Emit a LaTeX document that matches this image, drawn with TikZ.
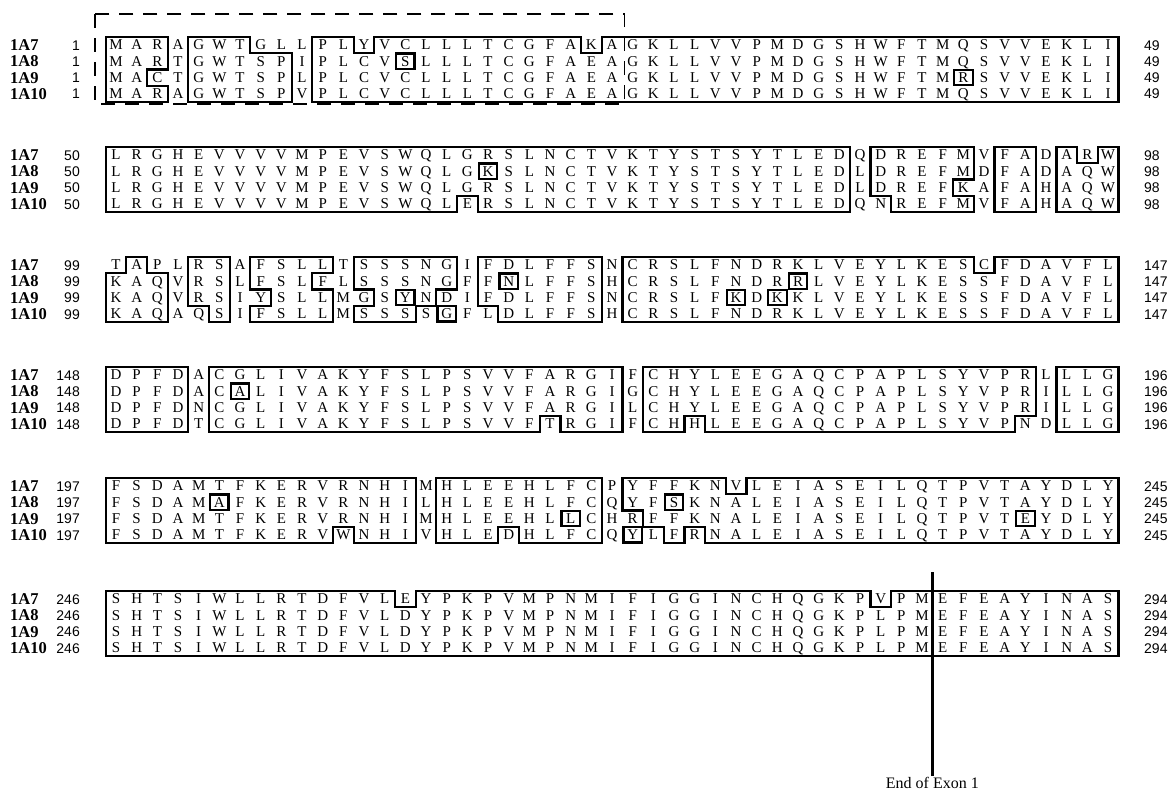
\documentclass[tikz,border=0pt]{standalone}
\usepackage{fontspec}
\setmainfont{Liberation Serif}
\newfontfamily\numfont{Liberation Sans}
\tikzset{
 res/.style={font=\fontsize{15bp}{17bp}\selectfont, inner sep=0pt, anchor=base, yshift=-4.95bp},
 lab/.style={font=\fontsize{16.5bp}{19bp}\selectfont\bfseries, inner sep=0pt, anchor=base west},
 stnum/.style={font=\numfont\fontsize{14bp}{16bp}\selectfont, inner sep=0pt, anchor=base east},
 ennum/.style={font=\numfont\fontsize{14bp}{16bp}\selectfont, inner sep=0pt, anchor=base west},
 bx/.style={line width=2.3bp, line join=miter},
 dashbox/.style={line width=1.8bp, dash pattern=on 14bp off 10bp},
 exonlab/.style={font=\fontsize{16bp}{18bp}\selectfont, inner sep=1bp, anchor=north},
}
\newcommand{\seqrow}[3]{\foreach \ch [count=\cc] in {#3}{\node[res] (s#1-#2-\cc) at (\cc,#2) {\ch};}}
\newcommand{\smbx}[2]{\draw[bx] (#1-0.45,#2-0.47) rectangle (#1+0.45,#2+0.47);}
\begin{document}
\begin{tikzpicture}[x=1bp,y=-1bp]
\useasboundingbox (0,0) rectangle (1176,800);

% labels and numbers
\foreach \b/\yy/\st/\en in {1/45/1/49,2/155/50/98,3/265/99/147,4/375/148/196,5/486/197/245,6/599/246/294}{
  \foreach \lab [count=\r] in {1A7,1A8,1A9,1A10}{
    \node[lab] (lab\b-\r) at (10,{\yy+16.3*(\r-1)+5.5}) {\lab};
    \node[stnum] (st\b-\r) at (80,{\yy+16.3*(\r-1)+5.1}) {\st};
    \node[ennum] (en\b-\r) at (1144,{\yy+16.3*(\r-1)+5.1}) {\en};
  }
}

% ---------------- Block 1 ----------------
\begin{scope}[shift={(95.333,28.7)}, x=20.667bp, y=-16.3bp]
\seqrow{1}{1}{M,A,R,A,G,W,T,G,L,L,P,L,Y,V,C,L,L,L,T,C,G,F,A,K,A,G,K,L,L,V,V,P,M,D,G,S,H,W,F,T,M,Q,S,V,V,E,K,L,I}
\seqrow{1}{2}{M,A,R,T,G,W,T,S,P,I,P,L,C,V,S,L,L,L,T,C,G,F,A,E,A,G,K,L,L,V,V,P,M,D,G,S,H,W,F,T,M,Q,S,V,V,E,K,L,I}
\seqrow{1}{3}{M,A,C,T,G,W,T,S,P,L,P,L,C,V,C,L,L,L,T,C,G,F,A,E,A,G,K,L,L,V,V,P,M,D,G,S,H,W,F,T,M,R,S,V,V,E,K,L,I}
\seqrow{1}{4}{M,A,R,A,G,W,T,S,P,V,P,L,C,V,C,L,L,L,T,C,G,F,A,E,A,G,K,L,L,V,V,P,M,D,G,S,H,W,F,T,M,Q,S,V,V,E,K,L,I}
\draw[bx] (0.5,0.5) -- (3.5,0.5) -- (3.5,2.5) -- (2.5,2.5) -- (2.5,3.5) -- (3.5,3.5) -- (3.5,4.5) -- (0.5,4.5) -- cycle;
\draw[bx] (4.5,0.5) -- (7.5,0.5) -- (7.5,1.5) -- (9.5,1.5) -- (9.5,4.5) -- (4.5,4.5) -- cycle;
\draw[bx] (10.5,0.5) -- (12.5,0.5) -- (12.5,1.5) -- (13.5,1.5) -- (13.5,0.5) -- (23.5,0.5) -- (23.5,1.5) -- (24.5,1.5) -- (24.5,0.5) -- (49.5,0.5) -- (49.5,4.5) -- (10.5,4.5) -- cycle;
\smbx{15}{2}
\smbx{42}{3}
\draw[dashbox] (0,-0.9) rectangle (25.6,4.62);
\end{scope}

% ---------------- Block 2 ----------------
\begin{scope}[shift={(95.333,138.7)}, x=20.667bp, y=-16.3bp]
\seqrow{2}{1}{L,R,G,H,E,V,V,V,V,M,P,E,V,S,W,Q,L,G,R,S,L,N,C,T,V,K,T,Y,S,T,S,Y,T,L,E,D,Q,D,R,E,F,M,V,F,A,D,A,R,W}
\seqrow{2}{2}{L,R,G,H,E,V,V,V,V,M,P,E,V,S,W,Q,L,G,K,S,L,N,C,T,V,K,T,Y,S,T,S,Y,T,L,E,D,L,D,R,E,F,M,D,F,A,D,A,Q,W}
\seqrow{2}{3}{L,R,G,H,E,V,V,V,V,M,P,E,V,S,W,Q,L,G,R,S,L,N,C,T,V,K,T,Y,S,T,S,Y,T,L,E,D,L,D,R,E,F,K,A,F,A,H,A,Q,W}
\seqrow{2}{4}{L,R,G,H,E,V,V,V,V,M,P,E,V,S,W,Q,L,E,R,S,L,N,C,T,V,K,T,Y,S,T,S,Y,T,L,E,D,Q,N,R,E,F,M,V,F,A,H,A,Q,W}
\draw[bx] (0.5,0.5) -- (36.5,0.5) -- (36.5,4.5) -- (18.5,4.5) -- (18.5,3.5) -- (17.5,3.5) -- (17.5,4.5) -- (0.5,4.5) -- cycle;
\smbx{19}{2}
\draw[bx] (37.5,0.5) -- (42.5,0.5) -- (42.5,2.5) -- (41.5,2.5) -- (41.5,3.5) -- (42.5,3.5) -- (42.5,4.5) -- (38.5,4.5) -- (38.5,3.5) -- (37.5,3.5) -- cycle;
\draw[bx] (43.5,0.5) rectangle (45.5,4.5);
\draw[bx] (46.5,0.5) -- (47.5,0.5) -- (47.5,1.5) -- (48.5,1.5) -- (48.5,0.5) -- (49.5,0.5) -- (49.5,4.5) -- (46.5,4.5) -- cycle;
\end{scope}

% ---------------- Block 3 ----------------
\begin{scope}[shift={(95.333,248.7)}, x=20.667bp, y=-16.3bp]
\seqrow{3}{1}{T,A,P,L,R,S,A,F,S,L,L,T,S,S,S,N,G,I,F,D,L,F,F,S,N,C,R,S,L,F,N,D,R,K,L,V,E,Y,L,K,E,S,C,F,D,A,V,F,L}
\seqrow{3}{2}{K,A,Q,V,R,S,L,F,S,L,F,L,S,S,S,N,G,F,F,N,L,F,F,S,H,C,R,S,L,F,N,D,R,R,L,V,E,Y,L,K,E,S,S,F,D,A,V,F,L}
\seqrow{3}{3}{K,A,Q,V,R,S,I,Y,S,L,L,M,G,S,Y,N,D,I,F,D,L,F,F,S,N,C,R,S,L,F,K,D,K,K,L,V,E,Y,L,K,E,S,S,F,D,A,V,F,L}
\seqrow{3}{4}{K,A,Q,A,Q,S,I,F,S,L,L,M,S,S,S,S,G,F,L,D,L,F,F,S,H,C,R,S,L,F,N,D,R,K,L,V,E,Y,L,K,E,S,S,F,D,A,V,F,L}
\draw[bx] (1.5,0.5) -- (2.5,0.5) -- (2.5,1.5) -- (3.5,1.5) -- (3.5,4.5) -- (0.5,4.5) -- (0.5,1.5) -- (1.5,1.5) -- cycle;
\draw[bx] (4.5,0.5) -- (6.5,0.5) -- (6.5,4.5) -- (5.5,4.5) -- (5.5,3.5) -- (4.5,3.5) -- cycle;
\draw[bx] (7.5,0.5) -- (11.5,0.5) -- (11.5,1.5) -- (10.5,1.5) -- (10.5,2.5) -- (11.5,2.5) -- (11.5,4.5) -- (7.5,4.5) -- (7.5,3.5) -- (8.5,3.5) -- (8.5,2.5) -- (7.5,2.5) -- cycle;
\draw[bx] (12.5,0.5) -- (17.5,0.5) -- (17.5,2.5) -- (16.5,2.5) -- (16.5,3.5) -- (15.5,3.5) -- (15.5,4.5) -- (12.5,4.5) -- (12.5,3.5) -- (13.5,3.5) -- (13.5,2.5) -- (12.5,2.5) -- cycle;
\smbx{15}{3}
\smbx{17}{4}
\draw[bx] (18.5,0.5) -- (24.5,0.5) -- (24.5,4.5) -- (19.5,4.5) -- (19.5,3.5) -- (18.5,3.5) -- cycle;
\smbx{20}{2}
\draw[bx] (25.5,0.5) -- (42.5,0.5) -- (42.5,1.5) -- (43.5,1.5) -- (43.5,0.5) -- (49.5,0.5) -- (49.5,4.5) -- (25.5,4.5) -- cycle;
\smbx{34}{2}
\smbx{31}{3}
\smbx{33}{3}
\end{scope}

% ---------------- Block 4 ----------------
\begin{scope}[shift={(95.333,358.7)}, x=20.667bp, y=-16.3bp]
\seqrow{4}{1}{D,P,F,D,A,C,G,L,I,V,A,K,Y,F,S,L,P,S,V,V,F,A,R,G,I,F,C,H,Y,L,E,E,G,A,Q,C,P,A,P,L,S,Y,V,P,R,L,L,L,G}
\seqrow{4}{2}{D,P,F,D,A,C,A,L,I,V,A,K,Y,F,S,L,P,S,V,V,F,A,R,G,I,G,C,H,Y,L,E,E,G,A,Q,C,P,A,P,L,S,Y,V,P,R,I,L,L,G}
\seqrow{4}{3}{D,P,F,D,N,C,G,L,I,V,A,K,Y,F,S,L,P,S,V,V,F,A,R,G,I,L,C,H,Y,L,E,E,G,A,Q,C,P,A,P,L,S,Y,V,P,R,I,L,L,G}
\seqrow{4}{4}{D,P,F,D,T,C,G,L,I,V,A,K,Y,F,S,L,P,S,V,V,F,T,R,G,I,F,C,H,H,L,E,E,G,A,Q,C,P,A,P,L,S,Y,V,P,N,D,L,L,G}
\draw[bx] (0.5,0.5) rectangle (4.5,4.5);
\draw[bx] (5.5,0.5) -- (25.5,0.5) -- (25.5,4.5) -- (22.5,4.5) -- (22.5,3.5) -- (21.5,3.5) -- (21.5,4.5) -- (5.5,4.5) -- cycle;
\smbx{7}{2}
\draw[bx] (26.5,0.5) -- (45.5,0.5) -- (45.5,3.5) -- (44.5,3.5) -- (44.5,4.5) -- (29.5,4.5) -- (29.5,3.5) -- (28.5,3.5) -- (28.5,4.5) -- (26.5,4.5) -- cycle;
\draw[bx] (46.5,0.5) rectangle (49.5,4.5);
\end{scope}

% ---------------- Block 5 ----------------
\begin{scope}[shift={(95.333,469.7)}, x=20.667bp, y=-16.3bp]
\seqrow{5}{1}{F,S,D,A,M,T,F,K,E,R,V,R,N,H,I,M,H,L,E,E,H,L,F,C,P,Y,F,F,K,N,V,L,E,I,A,S,E,I,L,Q,T,P,V,T,A,Y,D,L,Y}
\seqrow{5}{2}{F,S,D,A,M,A,F,K,E,R,V,R,N,H,I,L,H,L,E,E,H,L,F,C,Q,Y,F,S,K,N,A,L,E,I,A,S,E,I,L,Q,T,P,V,T,A,Y,D,L,Y}
\seqrow{5}{3}{F,S,D,A,M,T,F,K,E,R,V,R,N,H,I,M,H,L,E,E,H,L,L,C,H,R,F,F,K,N,A,L,E,I,A,S,E,I,L,Q,T,P,V,T,E,Y,D,L,Y}
\seqrow{5}{4}{F,S,D,A,M,T,F,K,E,R,V,W,N,H,I,V,H,L,E,D,H,L,F,C,Q,Y,L,F,R,N,A,L,E,I,A,S,E,I,L,Q,T,P,V,T,A,Y,D,L,Y}
\draw[bx] (0.5,0.5) -- (15.5,0.5) -- (15.5,4.5) -- (12.5,4.5) -- (12.5,3.5) -- (11.5,3.5) -- (11.5,4.5) -- (0.5,4.5) -- cycle;
\smbx{6}{2}
\draw[bx] (16.5,0.5) -- (24.5,0.5) -- (24.5,4.5) -- (20.5,4.5) -- (20.5,3.5) -- (19.5,3.5) -- (19.5,4.5) -- (16.5,4.5) -- cycle;
\smbx{23}{3}
\draw[bx] (25.5,0.5) -- (30.5,0.5) -- (30.5,1.5) -- (31.5,1.5) -- (31.5,0.5) -- (49.5,0.5) -- (49.5,4.5) -- (29.5,4.5) -- (29.5,3.5) -- (28.5,3.5) -- (28.5,4.5) -- (27.5,4.5) -- (27.5,3.5) -- (26.5,3.5) -- (26.5,2.5) -- (25.5,2.5) -- cycle;
\smbx{28}{2}
\smbx{45}{3}
\smbx{26}{4}
\end{scope}

% ---------------- Block 6 ----------------
\begin{scope}[shift={(95.333,582.7)}, x=20.667bp, y=-16.3bp]
\seqrow{6}{1}{S,H,T,S,I,W,L,L,R,T,D,F,V,L,E,Y,P,K,P,V,M,P,N,M,I,F,I,G,G,I,N,C,H,Q,G,K,P,V,P,M,E,F,E,A,Y,I,N,A,S}
\seqrow{6}{2}{S,H,T,S,I,W,L,L,R,T,D,F,V,L,D,Y,P,K,P,V,M,P,N,M,I,F,I,G,G,I,N,C,H,Q,G,K,P,L,P,M,E,F,E,A,Y,I,N,A,S}
\seqrow{6}{3}{S,H,T,S,I,W,L,L,R,T,D,F,V,L,D,Y,P,K,P,V,M,P,N,M,I,F,I,G,G,I,N,C,H,Q,G,K,P,L,P,M,E,F,E,A,Y,I,N,A,S}
\seqrow{6}{4}{S,H,T,S,I,W,L,L,R,T,D,F,V,L,D,Y,P,K,P,V,M,P,N,M,I,F,I,G,G,I,N,C,H,Q,G,K,P,L,P,M,E,F,E,A,Y,I,N,A,S}
\draw[bx] (0.5,0.5) -- (14.5,0.5) -- (14.5,1.5) -- (15.5,1.5) -- (15.5,0.5) -- (37.5,0.5) -- (37.5,1.5) -- (38.5,1.5) -- (38.5,0.5) -- (49.5,0.5) -- (49.5,4.5) -- (0.5,4.5) -- cycle;
\coordinate (exontop) at (40.5,-0.65);
\node[exonlab] (exon) at (40.5,11.85) {End of Exon 1};
\draw[bx] (exontop) -- (exon.north);
\end{scope}
\end{tikzpicture}
\end{document}
